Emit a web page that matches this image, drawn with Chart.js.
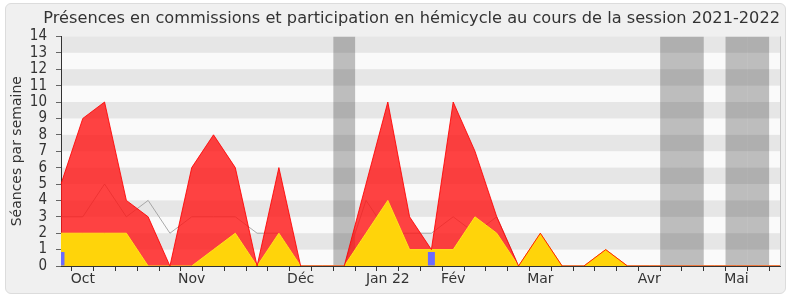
<!DOCTYPE html>
<html>
<head>
<meta charset="utf-8">
<script src="https://cdn.jsdelivr.net/npm/chart.js@4"></script>
<style>
  html, body { margin: 0; padding: 0; background: #ffffff; }
  #cadre {
    position: absolute; left: 5px; top: 3px; width: 779px; height: 289px;
    background: #f0f0f0; border: 1px solid #dcdcdc; border-radius: 6px;
  }
  #zone { position: absolute; left: 0; top: 0; width: 790px; height: 300px; }
</style>
</head>
<body>
<div id="cadre"></div>
<div id="zone"><canvas id="graph" width="790" height="300"></canvas></div>
<script>
// semaines de la session, libellé du mois sur la première semaine
const semaines = ['', 'Oct', '', '', '', '', 'Nov', '', '', '', '', 'Déc', '', '', '', 'Jan 22', '', '',
  'Fév', '', '', '', 'Mar', '', '', '', '', 'Avr', '', '', '', 'Mai', '', ''];
const presences = [5, 9, 10, 4, 3, 0, 6, 8, 6, 0, 6, 0, 0, 0, 5, 10, 3, 1, 10, 7, 3, 0, 2, 0, 0, 1,
  0, 0, 0, 0, 0, 0, 0, 0];
const hemicycle = [2, 2, 2, 2, 0, 0, 0, 1, 2, 0, 2, 0, 0, 0, 2, 4, 1, 1, 1, 3, 2, 0, 2, 0, 0, 1,
  0, 0, 0, 0, 0, 0, 0, 0];
const mediane = [3, 3, 5, 3, 4, 2, 3, 3, 3, 2, 2, 0, 0, 0, 4, 2, 2, 2, 3, 2, 3, 0, 0, 0, 0, 0,
  0, 0, 0, 0, 0, 0, 0, 0];
const questions = [0.85, null, null, null, null, null, null, null, null, null, null, null, null, null,
  null, null, null, 0.85, null, null, null, null, null, null, null, null, null, null, null, null,
  null, null, null, null];
const vacances = [0, 0, 0, 0, 0, 0, 0, 0, 0, 0, 0, 0, 0, 1, 0, 0, 0, 0, 0, 0, 0, 0, 0, 0, 0, 0,
  0, 0, 1, 1, 0, 1, 1, 0];
const yTicks = [0, 1, 2, 3, 4, 5, 6, 7, 8, 9, 10, 11, 12, 13, 14];
const Y_MAX = 14;

const TXT = '#333333';

// bandes grises alternées derrière les courbes
const fond = {
  id: 'fond',
  beforeDraw(chart) {
    const { ctx, chartArea: a, scales: { y } } = chart;
    ctx.save();
    ctx.fillStyle = '#fafafa';
    ctx.fillRect(a.left, a.top, a.right - a.left, a.bottom - a.top);
    ctx.fillStyle = '#e6e6e6';
    for (let v = 1; v < Y_MAX; v += 2) {
      const y1 = y.getPixelForValue(v + 1), y0 = y.getPixelForValue(v);
      ctx.fillRect(a.left, y1, a.right - a.left, y0 - y1);
    }
    ctx.restore();
  },
  afterDraw(chart) {
    const { ctx, chartArea: a } = chart;
    ctx.save();
    ctx.strokeStyle = '#c8c8c8';
    ctx.lineWidth = 1;
    ctx.beginPath();
    ctx.moveTo(a.right + 0.5, a.top);
    ctx.lineTo(a.right + 0.5, a.bottom);
    ctx.stroke();
    ctx.restore();
  }
};

new Chart(document.getElementById('graph'), {
  type: 'line',
  data: {
    labels: semaines,
    datasets: [
      {
        type: 'bar', data: vacances.map(v => v ? Y_MAX : null),
        backgroundColor: 'rgba(50,50,50,0.3)', grouped: false, inflateAmount: 0,
        barPercentage: 1, categoryPercentage: 1, order: 10
      },
      {
        data: mediane, borderColor: 'rgba(150,150,150,0.8)', borderWidth: 1,
        pointRadius: 0, fill: false, tension: 0, order: 9
      },
      {
        data: presences, borderWidth: 0, borderColor: 'rgba(0,0,0,0)',
        backgroundColor: 'rgba(255,20,20,0.8)', pointRadius: 0, fill: 'origin', tension: 0, order: 8
      },
      {
        data: hemicycle, borderColor: '#ffe21a', borderWidth: 1,
        backgroundColor: '#ffd40a', pointRadius: 0, fill: 'origin', tension: 0, order: 7
      },
      {
        data: presences, borderColor: 'rgba(255,0,0,0.85)', borderWidth: 1,
        pointRadius: 0, fill: false, tension: 0, order: 6
      },
      {
        type: 'bar', data: questions, backgroundColor: '#6b6bff', grouped: false, inflateAmount: 0,
        barPercentage: 0.32, categoryPercentage: 1, order: 5
      }
    ]
  },
  options: {
    responsive: false,
    animation: false,
    events: [],
    layout: { padding: { left: 5, right: 10, top: 3, bottom: 0 } },
    plugins: {
      legend: { display: false },
      tooltip: { enabled: false },
      title: {
        display: true,
        align: 'end',
        text: 'Présences en commissions et participation en hémicycle au cours de la session 2021-2022',
        color: TXT,
        font: { family: 'DejaVu Sans', size: 16.2, weight: 'normal' },
        padding: { top: 6, bottom: 8 }
      }
    },
    scales: {
      x: {
        type: 'category',
        offset: false,
        grid: { display: true, drawOnChartArea: false, tickLength: 5, color: TXT },
        border: { display: true, color: TXT, width: 1 },
        ticks: {
          autoSkip: false, maxRotation: 0, color: TXT, padding: 0,
          font: { family: 'DejaVu Sans', size: 14 }
        },
        afterFit: s => { s.height = 34; }
      },
      y: {
        min: 0, max: Y_MAX,
        afterBuildTicks: s => { s.ticks = yTicks.map(v => ({ value: v })); },
        grid: { display: true, drawOnChartArea: false, tickLength: 5, color: '#666666' },
        border: { display: true, color: TXT, width: 1 },
        ticks: {
          autoSkip: false, stepSize: 1, color: TXT, padding: 9,
          font: { family: "'DejaVu Sans Condensed', 'DejaVu Sans'", size: 15 }
        },
        title: {
          display: true, text: 'Séances par semaine', color: TXT,
          font: { family: 'DejaVu Sans', size: 14 }, padding: { top: 4, bottom: 0 }
        },
        afterFit: s => { s.width = 56; }
      }
    }
  },
  plugins: [fond]
});
</script>
</body>
</html>
